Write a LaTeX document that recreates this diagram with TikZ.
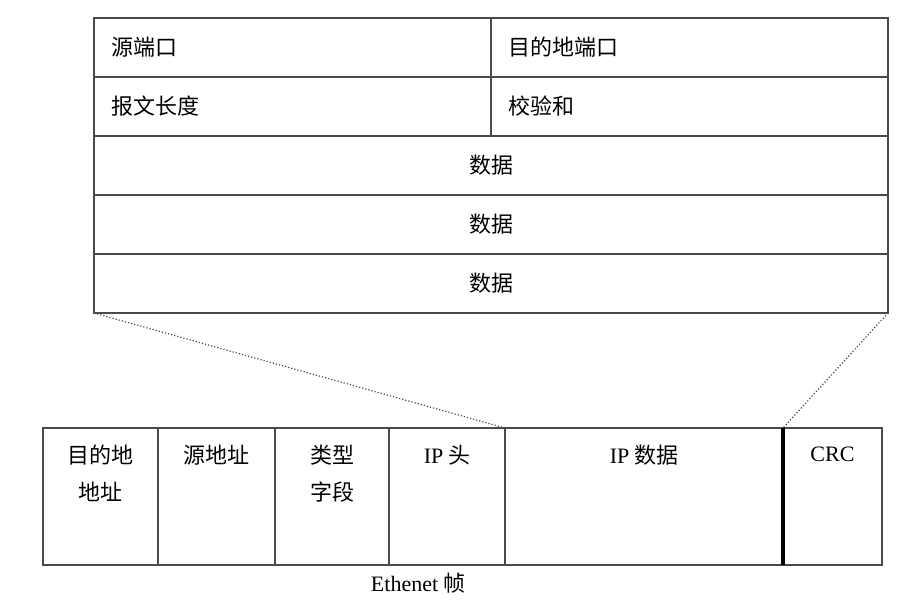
\documentclass[tikz,border=0pt]{standalone}
\usepackage{fontspec}
\setmainfont{Liberation Serif}
\newfontfamily\cjk{Noto Sans CJK SC}
\usetikzlibrary{positioning}
\definecolor{rule}{HTML}{4A4A4A}

\begin{document}
\begin{tikzpicture}[
    font=\cjk\fontsize{22}{37}\selectfont,
    field/.style={draw=rule, line width=1.6pt, minimum height=59pt, inner xsep=17pt, inner ysep=0pt, outer sep=0pt, anchor=north west},
    halffield/.style={field, text width=363pt, align=left},
    fullfield/.style={field, text width=760pt, align=center},
    slot/.style={draw=rule, line width=1.6pt, minimum height=137pt, inner sep=0pt, outer sep=0pt, anchor=north west},
    slottext/.style={align=center, inner sep=0pt},
    zoomline/.style={dotted, draw=rule, line width=1.2pt}
]
\useasboundingbox (0,0) rectangle (919pt,-610pt);

% UDP header
\node[halffield] (srcport) at (94pt,-18pt) {源端口};
\node[halffield, right=0pt of srcport] (dstport) {目的地端口};
\node[halffield, below=0pt of srcport] (length) {报文长度};
\node[halffield, below=0pt of dstport] (checksum) {校验和};
\node[fullfield, below=0pt of length.south west, anchor=north west] (data1) {数据};
\node[fullfield, below=0pt of data1] (data2) {数据};
\node[fullfield, below=0pt of data2] (data3) {数据};

% Ethernet frame
\node[slot, minimum width=115pt] (dstaddr) at (43pt,-428pt) {};
\node[slot, minimum width=117pt, right=0pt of dstaddr] (srcaddr) {};
\node[slot, minimum width=114pt, right=0pt of srcaddr] (type) {};
\node[slot, minimum width=116pt, right=0pt of type] (iphead) {};
\node[slot, minimum width=278pt, right=0pt of iphead] (ipdata) {};
\node[slot, minimum width=99pt, right=0pt of ipdata] (crc) {};
\draw[line width=3.2pt, black] (ipdata.north east) -- (ipdata.south east);

\node[slottext, below=17pt of dstaddr.north] (dstaddrtext) {目的地\\地址};
\node[slottext, below=17pt of srcaddr.north] (srcaddrtext) {源地址};
\node[slottext, below=17pt of type.north] (typetext) {类型\\字段};
\node[slottext, below=17pt of iphead.north] (ipheadtext) {{\rmfamily IP} 头};
\node[slottext, below=17pt of ipdata.north] (ipdatatext) {{\rmfamily IP} 数据};
\node[slottext, below=19pt of crc.north] (crctext) {\rmfamily CRC};
\node[slottext, below=8pt of iphead.south, xshift=-29pt] (caption) {{\rmfamily Ethenet} 帧};

% zoom lines
\draw[zoomline] (data3.south west) -- (iphead.north east);
\draw[zoomline] (data3.south east) -- (crc.north west);
\end{tikzpicture}
\end{document}
